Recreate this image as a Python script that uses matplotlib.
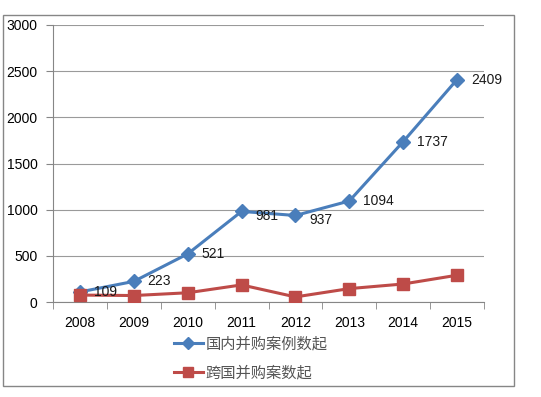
import numpy as np
import matplotlib.pyplot as plt
from matplotlib.patches import Rectangle

plt.rcParams['font.family'] = ['Liberation Sans', 'Noto Sans CJK SC']

years = ['2008', '2009', '2010', '2011', '2012', '2013', '2014', '2015']
domestic = [109, 223, 521, 981, 937, 1094, 1737, 2409]
cross_border = [75, 70, 100, 185, 55, 145, 195, 290]
domestic_name = '国内并购案例数起'
cross_name = '跨国并购案数起'

BLUE = '#4a7ebb'
RED = '#be4b48'

fig = plt.figure(figsize=(5.41, 3.97), dpi=100)
# outer frame of the chart area
fig.patches.append(Rectangle((3 / 541, 1 - 386 / 397), 511 / 541, 371 / 397,
                             transform=fig.transFigure, fill=False,
                             edgecolor='#868686', linewidth=1))

ax = fig.add_axes([53 / 541, 1 - 302 / 397, 431 / 541, 277 / 397])
x = np.arange(len(years))

l1, = ax.plot(x, domestic, color=BLUE, lw=2.2, marker='D', ms=7, zorder=3)
l2, = ax.plot(x, cross_border, color=RED, lw=2.2, marker='s', ms=9, zorder=3)

for xi, v in zip(x, domestic):
    dy = -3 if v in (981, 937) else 0
    ax.annotate(str(v), (xi, v), xytext=(10, dy), textcoords='offset points',
                va='center', ha='left', fontsize=10, color='#1a1a1a')

ax.set_xlim(-0.5, len(years) - 0.5)
ax.set_ylim(0, 3000)
ax.set_yticks(np.arange(0, 3001, 500))
ax.set_xticks(x)
ax.set_xticklabels(years)
ax.set_xticks(np.arange(-0.5, len(years)), minor=True)
ax.tick_params(axis='x', which='major', length=0, pad=10, labelsize=10)
ax.tick_params(axis='x', which='minor', length=5, color='#868686')
ax.tick_params(axis='y', length=5, color='#868686', labelsize=10, pad=6)
ax.grid(axis='y', color='#9a9a9a', lw=0.8)
ax.set_axisbelow(True)
for s in ['top', 'right']:
    ax.spines[s].set_visible(False)
ax.spines['left'].set_color('#868686')
ax.spines['bottom'].set_color('#868686')

fig.legend([l1, l2], [domestic_name, cross_name], loc='upper left',
           bbox_to_anchor=(160 / 541, 1 - 322 / 397), frameon=False,
           prop={'family': 'Noto Sans CJK SC', 'size': 11},
           labelcolor='#555555', handlelength=1.9, handletextpad=0.2,
           labelspacing=0.75, markerscale=0.85)

fig.savefig('out.png', dpi=100)
